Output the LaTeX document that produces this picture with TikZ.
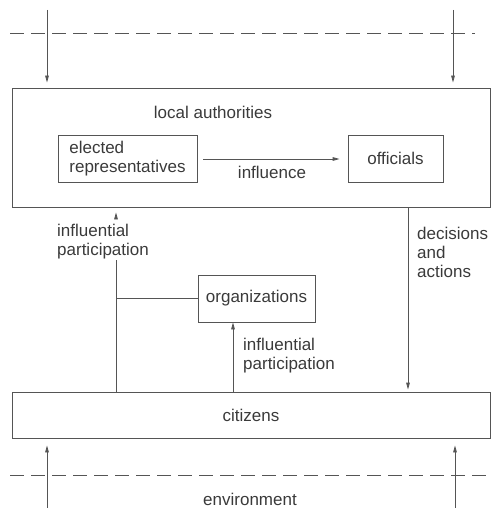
\documentclass[tikz,border=0pt]{standalone}
\usepackage{fontspec}
\setmainfont{Liberation Sans}
\usetikzlibrary{arrows.meta,calc}
\definecolor{ink}{HTML}{3A3A3A}
\definecolor{wire}{HTML}{555555}
\begin{document}
\begin{tikzpicture}[x=1pt,y=-1pt,
  every node/.style={text=ink,font=\fontsize{17}{19}\selectfont},
  box/.style={draw=wire,line width=0.8pt,inner sep=0pt,align=center},
  lbl/.style={inner sep=0pt,align=left},
  wireline/.style={draw=wire,line width=0.8pt},
  arr/.style={wireline,-{Triangle[length=7pt,width=3.6pt]}},
  dashline/.style={draw=wire,line width=0.7pt,dash pattern=on 14pt off 7pt}]
\useasboundingbox (0,0) rectangle (492,508);
% boxes
\node[box,minimum width=478pt,minimum height=119pt] (loc) at (251,147.5) {};
\node[box,minimum width=478pt,minimum height=46pt] (cit) at (251,415) {citizens};
\node[box,minimum width=139pt,minimum height=47pt,align=left] (elec) at (127.5,158.5) {elected\\representatives};
\node[box,minimum width=95pt,minimum height=47pt] (off) at (395.5,158.5) {officials};
\node[box,minimum width=117pt,minimum height=47pt] (org) at (256.5,298.5) {organizations};
% labels
\node[lbl] (loclbl) at (213,112) {local authorities};
\node[lbl] (inflbl) at (272,172) {influence};
\node[lbl,anchor=west] (ip1) at (57,242) {influential\\participation};
\node[lbl,anchor=west] (ip2) at (243,356) {influential\\participation};
\node[lbl,anchor=west] (dec) at (417,252) {decisions\\and\\actions};
\node[lbl] (env) at (250,499) {environment};
% dashed boundaries
\coordinate (dtl) at (10,33);
\coordinate (dtr) at (475,33);
\coordinate (dbl) at (10,475);
\coordinate (dbr) at (492,475);
\draw[dashline] (dtl) -- (dtr);
\draw[dashline] (dbl) -- (dbr);
% environment arrows
\coordinate (tl) at (47,10);
\coordinate (tr) at (453,10);
\coordinate (bl) at (47,508);
\coordinate (br) at (455,508);
\draw[arr,shorten >=5pt] (tl) -- (tl |- loc.north);
\draw[arr,shorten >=5pt] (tr) -- (tr |- loc.north);
\draw[arr,shorten >=7pt] (bl) -- (bl |- cit.south);
\draw[arr,shorten >=7pt] (br) -- (br |- cit.south);
% influence
\draw[arr,shorten <=6pt,shorten >=8pt] (elec.east |- 0,159) -- (off.west |- 0,159);
% influential participation (left)
\coordinate (jx) at (116,0);
\draw[wireline] (jx |- cit.north) -- (jx |- ip1.south);
\draw[arr,shorten <=6pt,shorten >=5pt] (jx |- ip1.north) -- (jx |- loc.south);
\draw[wireline] (jx |- org.west) -- (org.west);
% influential participation (right)
\coordinate (ox) at (233,0);
\draw[arr] (ox |- cit.north) -- (ox |- org.south);
% decisions and actions
\coordinate (dx) at (408,0);
\draw[arr,shorten >=2pt] (dx |- loc.south) -- (dx |- cit.north);
\end{tikzpicture}
\end{document}
